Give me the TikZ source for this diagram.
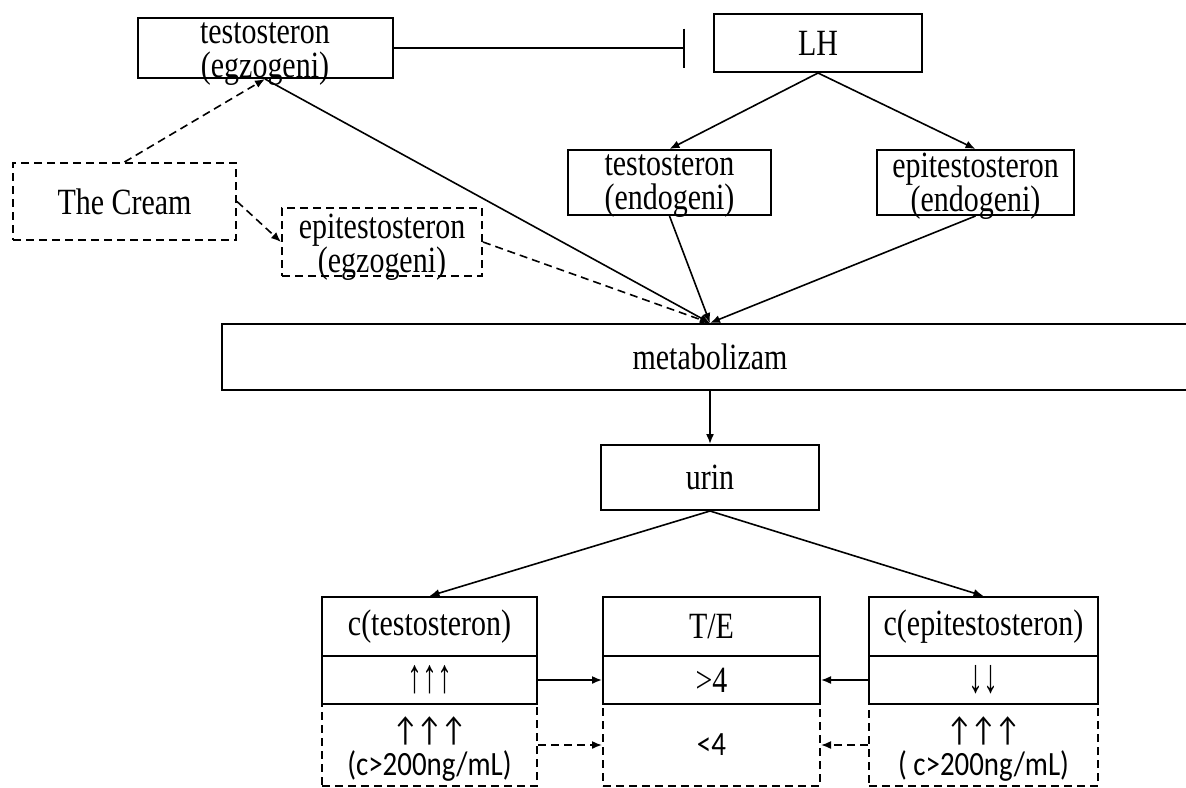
\documentclass[tikz,border=0pt]{standalone}
\usepackage{fontspec}
\setmainfont[FakeStretch=0.81]{Liberation Serif}
\newfontfamily\calibrif[FakeStretch=0.85]{Carlito}
\usetikzlibrary{arrows.meta}

\begin{document}
\begin{tikzpicture}[x=0.5pt, y=-0.5pt,
    txt/.style={inner sep=0pt, align=center, font=\fontsize{18.5}{17}\selectfont},
    stxt/.style={txt, font=\calibrif\fontsize{17}{17}\selectfont},
    box/.style={draw, line width=1pt, txt},
    dbox/.style={box, dash pattern=on 4pt off 2.5pt},
    arr/.style={line width=0.8pt, -{Latex[length=5pt, width=4pt]}},
    darr/.style={arr, dash pattern=on 4pt off 2.5pt}]

    % 画布
    \useasboundingbox (0,0) rectangle (1186,787);

    % 外源睾酮与 LH
    \node[box, minimum width=127.5pt, minimum height=30pt,
        label={[txt, yshift=-3pt]center:{testosteron\\(egzogeni)}}] (tex) at (265,48) {};
    \node[box, minimum width=104pt, minimum height=29pt] (lh) at (818,43) {LH};

    % 内源
    \node[box, minimum width=101.5pt, minimum height=32.5pt,
        label={[txt, yshift=-2pt]center:{testosteron\\(endogeni)}}] (ten) at (669.5,182.5) {};
    \node[box, minimum width=98.5pt, minimum height=32.5pt,
        label={[txt, yshift=-2pt]center:{epitestosteron\\(endogeni)}}] (een) at (975.5,182.5) {};

    % 乳膏
    \node[dbox, minimum width=111.5pt, minimum height=38.5pt] (cream) at (124.5,201.5) {The Cream};
    \node[dbox, minimum width=100pt, minimum height=34pt,
        label={[txt, yshift=-2.5pt]center:{epitestosteron\\(egzogeni)}}] (eex) at (382,242) {};

    % 代谢与尿液
    \node[box, minimum width=488pt, minimum height=33pt] (met) at (710,357) {metabolizam};
    \node[box, minimum width=109pt, minimum height=32.5pt] (urin) at (710,477.5) {urin};

    % 结果表格
    \node[box, minimum width=107.5pt, minimum height=29.5pt] (ct) at (429.5,626.5) {c(testosteron)};
    \node[box, minimum width=107.5pt, minimum height=24pt] (ctm) at (429.5,680) {\scalebox{1}[1.3]{↑↑↑}};
    \node[dbox, minimum width=107.5pt, minimum height=41pt,
        label={[stxt, yshift=-2pt]center:{↑\kern-1pt↑\kern-1pt↑\\(c>200ng/mL)}}] (ctd) at (429.5,745) {};
    \node[box, minimum width=108.5pt, minimum height=29.5pt] (te) at (711.5,626.5) {T/E};
    \node[box, minimum width=108.5pt, minimum height=24pt] (tem) at (711.5,680) {>4};
    \node[dbox, stxt, minimum width=108.5pt, minimum height=41pt] (ted) at (711.5,745) {<4};
    \node[box, minimum width=114.5pt, minimum height=29.5pt] (ce) at (983.5,626.5) {c(epitestosteron)};
    \node[box, minimum width=114.5pt, minimum height=24pt] (cem) at (983.5,680) {\scalebox{1}[1.3]{↓↓}};
    \node[dbox, minimum width=114.5pt, minimum height=41pt,
        label={[stxt, yshift=-2pt]center:{↑\kern-1pt↑\kern-1pt↑\\( c>200ng/mL)}}] (ced) at (983.5,745) {};

    % 抑制
    \draw[line width=0.8pt, -{Bar[width=19.5pt]}, shorten >=14pt] (tex.east) -- (tex.east -| lh.west);

    % 箭头
    \draw[arr] (lh.south) -- (ten.north);
    \draw[arr] (lh.south) -- (een.north);
    \draw[darr] (cream.north) -- (tex.south);
    \draw[darr] (cream.east) -- (eex.west);
    \draw[arr] (tex.south) -- (met.north);
    \draw[darr] (eex.east) -- (met.north);
    \draw[arr] (ten.south) -- (met.north);
    \draw[arr] (een.south) -- (met.north);
    \draw[arr] (met.south) -- (urin.north);
    \draw[arr] (urin.south) -- (ct.north);
    \draw[arr] (urin.south) -- (ce.north);
    \draw[arr] (ctm) -- (tem);
    \draw[arr] (cem) -- (tem);
    \draw[darr] (ctd) -- (ted);
    \draw[darr] (ced) -- (ted);
\end{tikzpicture}
\end{document}
